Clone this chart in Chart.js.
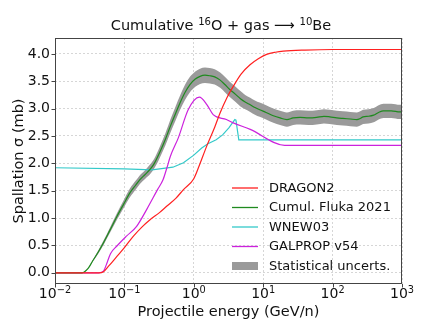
<!DOCTYPE html>
<html lang="en">
<head>
  <meta charset="UTF-8">
  <title>Cumulative 16O + gas -> 10Be</title>
  <style>
    body { margin: 0; padding: 0; background: #ffffff; }
    #wrap { width: 447px; height: 320px; }
  </style>
</head>
<body>
  <div id="wrap">
    <canvas id="xsChart" width="447" height="320"></canvas>
  </div>

  <script src="https://cdn.jsdelivr.net/npm/chart.js"></script>

  <script>
    // values, energies in GeV/n, cross sections in mb
    const dragonE = [0.01, 0.043, 0.05, 0.06, 0.078, 0.1, 0.135, 0.18, 0.234, 0.32, 0.41, 0.55, 0.71, 1.0, 1.2, 1.53, 2.0, 2.39, 3.0, 3.72, 4.8, 6.46, 8.5, 11.2, 15, 19.5, 40, 100, 1000];
    const dragonXS = [0, 0, 0.02, 0.13, 0.30, 0.46, 0.67, 0.84, 0.97, 1.10, 1.22, 1.36, 1.52, 1.72, 1.96, 2.31, 2.66, 2.92, 3.20, 3.41, 3.63, 3.80, 3.91, 3.99, 4.03, 4.05, 4.07, 4.08, 4.08];

    const flukaE = [0.01, 0.0245, 0.03, 0.035, 0.042, 0.05, 0.062, 0.078, 0.098, 0.12, 0.145, 0.166, 0.2, 0.234, 0.27, 0.32, 0.39, 0.46, 0.55, 0.63, 0.75, 0.88, 1.05, 1.23, 1.45, 1.7, 2.0, 2.4, 2.8, 3.3, 4.0, 4.7, 5.5, 6.5, 7.6, 8.9, 11, 14, 17.5, 22, 27, 34, 45, 59, 75, 91, 115, 141, 180, 224, 250, 275, 330, 390, 460, 540, 700, 930, 1000];
    const flukaXS = [0, 0, 0.08, 0.22, 0.38, 0.55, 0.78, 1.03, 1.26, 1.46, 1.60, 1.70, 1.80, 1.89, 2.00, 2.19, 2.44, 2.68, 2.92, 3.10, 3.30, 3.44, 3.54, 3.59, 3.61, 3.60, 3.58, 3.52, 3.44, 3.35, 3.26, 3.18, 3.12, 3.07, 3.02, 2.98, 2.93, 2.87, 2.83, 2.80, 2.83, 2.84, 2.83, 2.84, 2.86, 2.85, 2.83, 2.82, 2.81, 2.80, 2.82, 2.85, 2.86, 2.88, 2.93, 2.96, 2.96, 2.94, 2.94];
    const flukaErr = [0, 0, 0.005, 0.015, 0.03, 0.04, 0.05, 0.06, 0.07, 0.08, 0.08, 0.08, 0.08, 0.09, 0.09, 0.10, 0.11, 0.12, 0.13, 0.13, 0.14, 0.14, 0.14, 0.14, 0.14, 0.14, 0.14, 0.14, 0.14, 0.14, 0.14, 0.14, 0.13, 0.13, 0.13, 0.13, 0.13, 0.13, 0.13, 0.13, 0.13, 0.13, 0.13, 0.13, 0.13, 0.13, 0.13, 0.13, 0.13, 0.13, 0.13, 0.13, 0.13, 0.13, 0.13, 0.13, 0.13, 0.13, 0.13];

    const wnewE = [0.01, 0.1, 0.25, 0.5, 0.71, 1.0, 1.3, 1.6, 2.1, 2.6, 3.2, 3.9, 4.05, 4.45, 1000];
    const wnewXS = [1.92, 1.90, 1.88, 1.93, 2.01, 2.15, 2.28, 2.36, 2.43, 2.52, 2.65, 2.80, 2.79, 2.43, 2.43];

    const galpropE = [0.01, 0.043, 0.05, 0.055, 0.063, 0.078, 0.107, 0.15, 0.21, 0.3, 0.36, 0.41, 0.46, 0.6, 0.83, 1.2, 1.55, 1.9, 2.95, 3.7, 6.5, 20.4, 1000];
    const galpropXS = [0, 0, 0.03, 0.15, 0.35, 0.49, 0.67, 0.85, 1.16, 1.52, 1.70, 1.92, 2.13, 2.47, 2.98, 3.21, 3.07, 2.89, 2.80, 2.74, 2.62, 2.33, 2.33];

    const xTicks = [0.01, 0.1, 1, 10, 100, 1000];
    const xTickExps = ['\u22122', '\u22121', '0', '1', '2', '3'];
    const yTicks = [0, 0.5, 1, 1.5, 2, 2.5, 3, 3.5, 4];

    const seriesNames = ['DRAGON2', 'Cumul. Fluka 2021', 'WNEW03', 'GALPROP v54', 'Statistical uncerts.'];
    const seriesColors = ['#ff2020', '#1f8a1f', '#33c9c9', '#cc22dd', '#9a9a9a'];

    const pts = (xs, ys) => xs.map((x, i) => ({ x: x, y: ys[i] }));
    const bandHigh = flukaXS.map((v, i) => v + flukaErr[i]);
    const bandLow = flukaXS.map((v, i) => v - flukaErr[i]);

    const font = 'DejaVu Sans';

    // text with superscripts, centred on cx
    function drawRich(ctx, segs, cx, baseline, size) {
      const supSize = size * 0.7;
      const widths = segs.map(s => {
        ctx.font = (s.sup ? supSize : size) + 'px ' + font;
        return ctx.measureText(s.t).width;
      });
      let x = cx - widths.reduce((p, w) => p + w, 0) / 2;
      ctx.textAlign = 'left';
      ctx.textBaseline = 'alphabetic';
      segs.forEach((s, i) => {
        ctx.font = (s.sup ? supSize : size) + 'px ' + font;
        ctx.fillText(s.t, x, s.sup ? baseline - size * 0.32 : baseline);
        x += widths[i];
      });
    }

    // frame, tick marks and labels, axis titles, title and legend
    const overlay = {
      id: 'overlay',
      afterDraw(chart) {
        const ctx = chart.ctx;
        const a = chart.chartArea;
        const xs = chart.scales.x, ys = chart.scales.y;
        ctx.save();
        ctx.strokeStyle = '#444';
        ctx.lineWidth = 1;
        ctx.strokeRect(a.left + 0.5, a.top + 0.5, a.right - a.left - 1, a.bottom - a.top - 1);
        ctx.beginPath();
        xTicks.forEach(v => {
          const px = Math.round(xs.getPixelForValue(v)) + 0.5;
          ctx.moveTo(px, a.bottom); ctx.lineTo(px, a.bottom + 3.5);
        });
        yTicks.forEach(v => {
          const py = Math.round(ys.getPixelForValue(v)) + 0.5;
          ctx.moveTo(a.left, py); ctx.lineTo(a.left - 3.5, py);
        });
        ctx.stroke();

        ctx.fillStyle = '#111';
        xTicks.forEach((v, i) => {
          drawRich(ctx, [{ t: '10' }, { t: xTickExps[i], sup: true }], xs.getPixelForValue(v), 297.5, 14);
        });

        drawRich(ctx, [
          { t: 'Cumulative ' }, { t: '16', sup: true }, { t: 'O + gas \u27F6 ' },
          { t: '10', sup: true }, { t: 'Be' }
        ], 221, 29.5, 14.5);

        ctx.font = '14.5px ' + font;
        ctx.textAlign = 'center';
        ctx.textBaseline = 'alphabetic';
        ctx.fillText('Projectile energy (GeV/n)', (a.left + a.right) / 2, 315.5);
        ctx.save();
        ctx.translate(23, (a.top + a.bottom) / 2);
        ctx.rotate(-Math.PI / 2);
        ctx.fillText('Spallation \u03C3 (mb)', 0, 0);
        ctx.restore();

        // legend
        ctx.font = '13px ' + font;
        ctx.textAlign = 'left';
        ctx.textBaseline = 'middle';
        const rowY = [188, 207.5, 227, 246.5, 266];
        seriesNames.forEach((name, i) => {
          const y = rowY[i];
          if (i < 4) {
            ctx.strokeStyle = seriesColors[i];
            ctx.lineWidth = 1.3;
            ctx.beginPath();
            ctx.moveTo(232, y); ctx.lineTo(258, y);
            ctx.stroke();
          } else {
            ctx.fillStyle = seriesColors[4];
            ctx.fillRect(232, y - 4, 26, 8);
          }
          ctx.fillStyle = '#111';
          ctx.fillText(name, 269, y + 0.5);
        });
        ctx.restore();
      }
    };

    const lineStyle = { pointRadius: 0, borderWidth: 1.2, fill: false, tension: 0, cubicInterpolationMode: 'monotone' };

    new Chart(document.getElementById('xsChart').getContext('2d'), {
      type: 'line',
      data: {
        datasets: [
          { label: 'band high', order: 10, data: pts(flukaE, bandHigh), pointRadius: 0, borderWidth: 0, backgroundColor: seriesColors[4], fill: '+1', cubicInterpolationMode: 'monotone' },
          { label: 'band low', order: 9, data: pts(flukaE, bandLow), pointRadius: 0, borderWidth: 0, fill: false, cubicInterpolationMode: 'monotone' },
          Object.assign({ label: seriesNames[2], order: 4, data: pts(wnewE, wnewXS), borderColor: seriesColors[2] }, lineStyle, { cubicInterpolationMode: 'default' }),
          Object.assign({ label: seriesNames[3], order: 3, data: pts(galpropE, galpropXS), borderColor: seriesColors[3] }, lineStyle),
          Object.assign({ label: seriesNames[1], order: 2, data: pts(flukaE, flukaXS), borderColor: seriesColors[1] }, lineStyle),
          Object.assign({ label: seriesNames[0], order: 1, data: pts(dragonE, dragonXS), borderColor: seriesColors[0] }, lineStyle)
        ]
      },
      options: {
        responsive: false,
        animation: false,
        devicePixelRatio: 1,
        layout: { padding: { top: 38, right: 45, left: 0, bottom: 0 } },
        plugins: {
          legend: { display: false },
          title: { display: false },
          tooltip: { enabled: false }
        },
        scales: {
          x: {
            type: 'logarithmic',
            min: 0.01,
            max: 1000,
            afterBuildTicks: s => { s.ticks = xTicks.map(v => ({ value: v })); },
            afterFit: s => { s.height = 36; },
            ticks: { display: false },
            grid: { color: '#d6d6d6', lineWidth: 1, drawTicks: false },
            border: { display: false, dash: [2, 2] }
          },
          y: {
            type: 'linear',
            min: -0.204,
            max: 4.29,
            afterBuildTicks: s => { s.ticks = yTicks.map(v => ({ value: v })); },
            afterFit: s => { s.width = 55; },
            ticks: {
              padding: 5,
              color: '#111',
              font: { family: font, size: 14 },
              callback: v => v.toFixed(1)
            },
            grid: { color: '#d6d6d6', lineWidth: 1, drawTicks: false },
            border: { display: false, dash: [2, 2] }
          }
        }
      },
      plugins: [overlay]
    });
  </script>
</body>
</html>
